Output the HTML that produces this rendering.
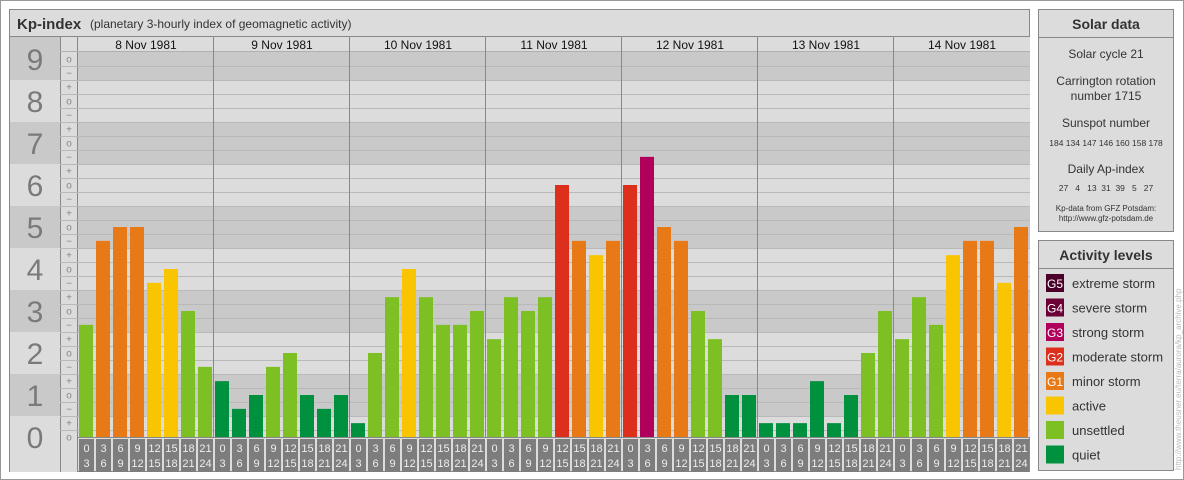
<!DOCTYPE html>
<html><head><meta charset="utf-8"><style>
body{margin:0;background:#fff;width:1184px;height:480px;overflow:hidden;font-family:"Liberation Sans",sans-serif}
svg{display:block}
text{font-family:"Liberation Sans",sans-serif}
</style></head><body>
<svg id="chart" width="1184" height="480" viewBox="0 0 1184 480" xmlns="http://www.w3.org/2000/svg">
<rect x="0.5" y="0.5" width="1183" height="479" fill="#fff" stroke="#999"/>
<rect x="9.5" y="9.5" width="1020" height="462" fill="#dcdcdc" stroke="#888"/>
<rect x="9.5" y="9.5" width="1020" height="27" fill="#dcdcdc" stroke="#888"/>
<text x="17" y="29" font-size="15" font-weight="bold" fill="#333">Kp-index</text>
<text x="90" y="28" font-size="12" fill="#333">(planetary 3-hourly index of geomagnetic activity)</text>
<g id="grid"></g>
<g id="bars"></g>
<g id="labels"></g>
<rect x="1038.5" y="9.5" width="135" height="222" fill="#dcdcdc" stroke="#888"/>
<line x1="1038" y1="37.5" x2="1174" y2="37.5" stroke="#888"/>
<text x="1106" y="29" font-size="14" font-weight="bold" fill="#333" text-anchor="middle">Solar data</text>
<g font-size="12" fill="#333" text-anchor="middle">
<text x="1106" y="58">Solar cycle 21</text>
<text x="1106" y="85">Carrington rotation</text>
<text x="1106" y="100">number 1715</text>
<text x="1106" y="127">Sunspot number</text>
<text x="1106" y="146" font-size="8.5">184 134 147 146 160 158 178</text>
<text x="1106" y="173">Daily Ap-index</text>
<text x="1106" y="191" font-size="8.5" xml:space="preserve">27   4   13  31  39   5   27</text>
<text x="1106" y="211" font-size="8">Kp-data from GFZ Potsdam:</text>
<text x="1106" y="221" font-size="8">http://www.gfz-potsdam.de</text>
</g>
<rect x="1038.5" y="240.5" width="135" height="230" fill="#dcdcdc" stroke="#888"/>
<line x1="1038" y1="268.5" x2="1174" y2="268.5" stroke="#888"/>
<text x="1106" y="260" font-size="14" font-weight="bold" fill="#333" text-anchor="middle">Activity levels</text>
<g id="legend"></g>
<text transform="translate(1181,470) rotate(-90)" font-size="8" fill="#bbb">http://www.theusner.eu/terra/aurora/kp_archive.php</text>
</svg>
<script>
const days = ["8 Nov 1981","9 Nov 1981","10 Nov 1981","11 Nov 1981","12 Nov 1981","13 Nov 1981","14 Nov 1981"];
const kp = [2.67,4.67,5,5,3.67,4,3,1.67,
 1.33,0.67,1,1.67,2,1,0.67,1,
 0.33,2,3.33,4,3.33,2.67,2.67,3,
 2.33,3.33,3,3.33,6,4.67,4.33,4.67,
 6,6.67,5,4.67,3,2.33,1,1,
 0.33,0.33,0.33,1.33,0.33,1,2,3,
 2.33,3.33,2.67,4.33,4.67,4.67,3.67,5];
const hourStart = ["0","3","6","9","12","15","18","21"];
const hourEnd = ["3","6","9","12","15","18","21","24"];
const levelNames = ["extreme storm","severe storm","strong storm","moderate storm","minor storm","active","unsettled","quiet"];
const levelTags = ["G5","G4","G3","G2","G1","","",""];
const levelColors = ["#4a0028","#6c0036","#b0005c","#dc301c","#e77a16","#f8c500","#7dc023","#00913f"];

const NS="http://www.w3.org/2000/svg";
const X0=78, SLOT=17, Y0=437, UNIT=42;
const y=v=>Y0-v*UNIT;
const x=i=>X0+i*SLOT+1;
function mk(tag,attrs,parent,txt){const e=document.createElementNS(NS,tag);for(const k in attrs)e.setAttribute(k,attrs[k]);if(txt!==undefined)e.textContent=txt;parent.appendChild(e);return e;}
function colorFor(v){const t=Math.round(v*3);
 if(t>=26)return levelColors[0]; if(t>=23)return levelColors[1]; if(t>=20)return levelColors[2];
 if(t>=17)return levelColors[3]; if(t>=14)return levelColors[4]; if(t>=11)return levelColors[5];
 if(t>=5)return levelColors[6]; return levelColors[7];}
const grid=document.getElementById('grid'), bars=document.getElementById('bars'), labels=document.getElementById('labels');
const W=X0+days.length*8*SLOT;
// bands
for(let n=0;n<=9;n++){
 let top=Math.max(51,y(n+1/3+1/6)), bot=n==0?Y0:y(n-0.5);
 let fill=n%2? "#c9c9c9":"#dcdcdc";
 const r=mk('rect',{x:X0,y:top,width:W-X0,height:bot-top,fill:fill},grid);
 
 
 let lt=Math.max(37,top), lb=n==0?472:bot;
 const r2=mk('rect',{x:10,y:n==9?37:top,width:50,height:lb-(n==9?37:top),fill:fill},grid);
 
 
 const t=mk('text',{x:35,y:y(n)+11,'font-size':30,fill:'#7a7a7a','text-anchor':'middle'},grid,String(n));
 
 
}
mk('rect',{x:60,y:37,width:18,height:435,fill:'#dcdcdc'},grid);
mk('line',{x1:60.5,y1:37,x2:60.5,y2:472,stroke:'#888'},grid);
mk('line',{x1:77.5,y1:37,x2:77.5,y2:472,stroke:'#888'},grid);
// half-third grid lines
for(let h=1;h<=27;h++){const v=(h-0.5)/3; const yy=Math.round(y(v))+0.5; if(yy<51)continue;
 mk('line',{x1:60,y1:yy,x2:W,y2:yy,stroke:'#b9b9b9'},grid);}
// sub ticks
for(let t=0;t<=27;t++){const s=["o","+","−"][(t%3)]; const v=t%3==2?(t+1)/3-1/3:t/3; }
for(let n=0;n<=9;n++){
 const items=[[n-1/3,'−'],[n,'o'],[n+1/3,'+']];
 for(const [v,s] of items){ if(v<0||v>9)continue;
  const t=mk('text',{x:69,y:y(v)+3.5,'font-size':10,fill:'#888','text-anchor':'middle'},grid,s);
  
  }
}
// date header
mk('rect',{x:X0,y:37,width:W-X0,height:14,fill:'#dcdcdc'},grid);
mk('line',{x1:60,y1:51.5,x2:W,y2:51.5,stroke:'#b0b0b0'},grid);
days.forEach((d,i)=>{
 const cx=X0+i*8*SLOT+4*SLOT;
 const t=mk('text',{x:cx,y:49,'font-size':12,fill:'#111','text-anchor':'middle'},labels,d);
 
 
 if(i>0){const l=mk('line',{x1:X0+i*8*SLOT-0.5,y1:37,x2:X0+i*8*SLOT-0.5,y2:437,stroke:'#888'},labels);
  
  }
});
// bars
kp.forEach((v,i)=>{
 const b=mk('rect',{x:x(i),y:y(v),width:14,height:Y0-y(v),fill:colorFor(v)},bars);
 
 
 const h=i%8;
 const bx=mk('rect',{x:x(i),y:439,width:15,height:33,fill:'#7d7d7d'},labels);
 
 
 const t1=mk('text',{x:x(i)+7.5,y:452,'font-size':11,fill:'#eee','text-anchor':'middle'},labels,hourStart[h]);
 
 
 const t2=mk('text',{x:x(i)+7.5,y:467,'font-size':11,fill:'#eee','text-anchor':'middle'},labels,hourEnd[h]);
 
 
});
mk('line',{x1:X0,y1:437.5,x2:W,y2:437.5,stroke:'#888'},labels);
// legend
const lg=document.getElementById('legend');
levelNames.forEach((n,i)=>{
 const yy=274+i*24.5;
 const r=mk('rect',{x:1046,y:yy,width:18,height:18,fill:levelColors[i]},lg);
 
 
 if(levelTags[i]){const t=mk('text',{x:1055,y:yy+14,'font-size':12,fill:'#fff','text-anchor':'middle'},lg,levelTags[i]);
  
  }
 const t=mk('text',{x:1072,y:yy+14,'font-size':13,fill:'#333'},lg,n);
 
 
});
</script>
</body></html>
